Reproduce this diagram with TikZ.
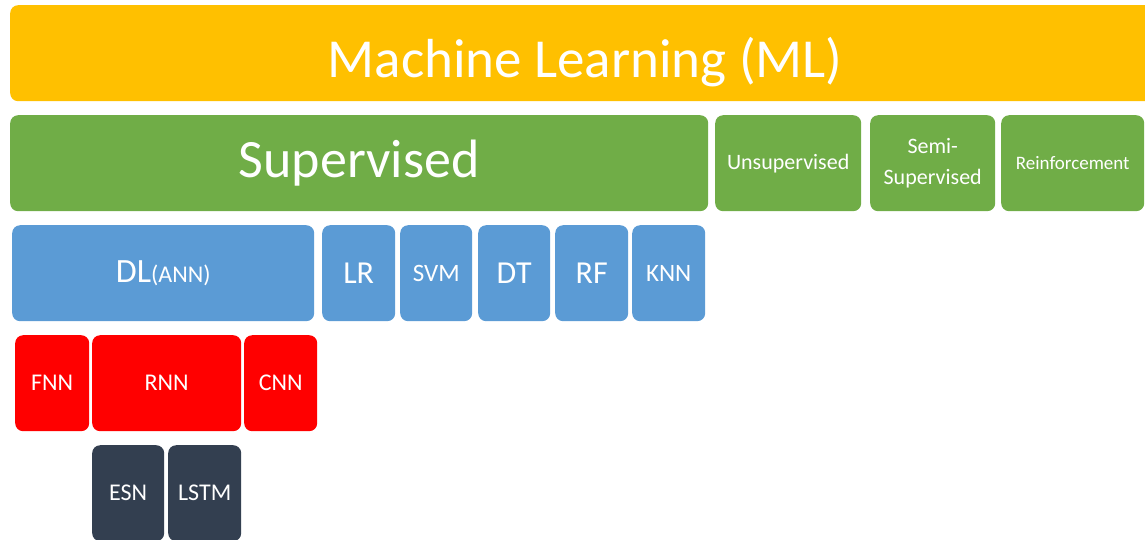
\documentclass[tikz,border=0pt]{standalone}
\usepackage{fontspec}
\setmainfont{Carlito}
\usetikzlibrary{positioning}

\definecolor{mlgold}{HTML}{FFC000}
\definecolor{learngreen}{HTML}{70AD47}
\definecolor{algoblue}{HTML}{5B9BD5}
\definecolor{netred}{HTML}{FF0000}
\definecolor{slate}{HTML}{333F50}

\newcommand{\fsz}[1]{\fontsize{#1}{1.35\dimexpr#1pt\relax}\selectfont}

\tikzset{
  blk/.style={rounded corners=8pt, text=white, inner sep=0pt, anchor=north west,
    minimum height=96pt, align=center},
  mlbox/.style={blk, fill=mlgold, font=\fsz{55}},
  kind/.style={blk, fill=learngreen, font=\fsz{22}},
  algo/.style={blk, fill=algoblue, font=\fsz{32}},
  net/.style={blk, fill=netred, font=\fsz{24}},
  cell/.style={blk, fill=slate, font=\fsz{24}},
}

\begin{document}
\begin{tikzpicture}[x=1pt,y=-1pt]
  \useasboundingbox (0,0) rectangle (1145,539);
  \clip (0,0) rectangle (1145,539);

  % top level
  \node[mlbox, minimum width=1150pt, text height=48pt, text depth=0pt] (ML) at (10,5) {Machine Learning (ML)};

  % kinds of learning
  \node[kind, minimum width=698pt, font=\fsz{54}] (Sup) at (10,115) {Supervised};
  \node[kind, minimum width=146pt] (Unsup) at (715,115) {Unsupervised};
  \node[kind, minimum width=125pt, font={\fontsize{22}{31}\selectfont}] (Semi) at (870,115) {Semi-\\Supervised};
  \node[kind, minimum width=143pt, font=\fsz{19}] (Reinf) at (1001,115) {Reinforcement};

  % supervised algorithms
  \node[algo, minimum width=302pt, font=\fsz{34}] (DL) at (12,225) {DL{\fsz{24}(ANN)}};
  \node[algo, minimum width=73pt] (LR) at (322,225) {LR};
  \node[algo, minimum width=72pt, font=\fsz{25}] (SVM) at (400,225) {SVM};
  \node[algo, minimum width=72pt] (DT) at (478,225) {DT};
  \node[algo, minimum width=73pt] (RF) at (555,225) {RF};
  \node[algo, minimum width=73pt, font=\fsz{25}] (KNN) at (632,225) {KNN};

  % neural nets
  \node[net, minimum width=74pt] (FNN) at (15,335) {FNN};
  \node[net, minimum width=149pt] (RNN) at (92,335) {RNN};
  \node[net, minimum width=73pt] (CNN) at (244,335) {CNN};

  % recurrent variants
  \node[cell, minimum width=72pt] (ESN) at (92,445) {ESN};
  \node[cell, minimum width=73pt] (LSTM) at (168,445) {LSTM};
\end{tikzpicture}
\end{document}
